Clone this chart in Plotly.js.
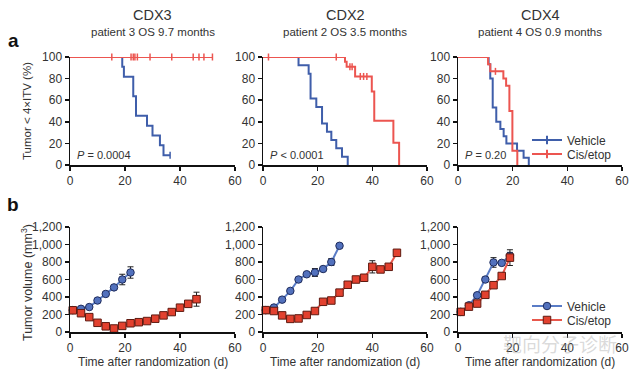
<!DOCTYPE html>
<html>
<head>
<meta charset="utf-8">
<script src="https://cdn.plot.ly/plotly-3.0.1.min.js"></script>
<style>html,body{margin:0;padding:0;background:#fff;}#chart{width:640px;height:375px;}</style>
</head>
<body>
<div id="chart"></div>
<script>
// ---------- DATA ----------
const panelNames = ["CDX3", "CDX2", "CDX4"];
const panelSubtitles = ["patient 3 OS 9.7 months", "patient 2 OS 3.5 months", "patient 4 OS 0.9 months"];
const pValues = ["<i>P</i> = 0.0004", "<i>P</i> < 0.0001", "<i>P</i> = 0.20"];
const seriesNames = ["Vehicle", "Cis/etop"];

// Kaplan-Meier step data (time in days, % tumor < 4xITV)
const kmVehCDX3_t = [0, 19, 19.6, 23, 24, 28, 30, 32.7, 34, 36.4];
const kmVehCDX3_s = [100, 90.9, 81.8, 63.6, 45.5, 36.4, 27.3, 18.2, 9.1, 9.1];
const kmVehCDX3_ct = [36.4];
const kmVehCDX3_cs = [9.1];
const kmCisCDX3_t = [0, 52];
const kmCisCDX3_s = [100, 100];
const kmCisCDX3_ct = [15.2, 22.2, 23, 23.6, 24.5, 29.1, 37, 44.8, 46.9, 48.7, 51.8];
const kmCisCDX3_cs = [100, 100, 100, 100, 100, 100, 100, 100, 100, 100, 100];

const kmVehCDX2_t = [0, 13, 16.7, 17.4, 19.5, 21.6, 23.4, 25, 26.8, 28.9, 31];
const kmVehCDX2_s = [100, 92.3, 84.6, 61.5, 53.8, 38.5, 30.8, 23.1, 15.4, 7.7, 0];
const kmCisCDX2_t = [0, 30, 30.6, 33.7, 39.8, 40.7, 47.7, 49.8];
const kmCisCDX2_s = [100, 95.5, 91, 82, 68, 41, 20.5, 0];
const kmCisCDX2_ct = [2, 26.8, 31.8, 32.6, 35.6, 36.8, 38];
const kmCisCDX2_cs = [100, 100, 91, 91, 82, 82, 82];

const kmVehCDX4_t = [0, 11.2, 11.8, 12.7, 14, 15.5, 16.7, 17.7, 21.6, 24, 25.9];
const kmVehCDX4_s = [100, 93.3, 80, 53.3, 40, 33.3, 26.7, 20, 13.3, 6.7, 0];
const kmCisCDX4_t = [0, 11, 11.8, 16.6, 17.6, 18.8, 19.9, 21.7];
const kmCisCDX4_s = [100, 93.3, 86.7, 80, 73.3, 50, 13.3, 0];
const kmCisCDX4_ct = [13.7];
const kmCisCDX4_cs = [86.7];

// Tumor volume (mm^3) by day
const volVehCDX3_d = [1, 4, 7, 10, 13, 16, 19, 22];
const volVehCDX3_v = [250, 265, 285, 360, 435, 510, 600, 680];
const volVehCDX3_e = [10, 15, 15, 15, 20, 25, 60, 65];
const volCisCDX3_d = [1, 4, 7, 10, 13, 16, 19, 22, 25, 28, 31, 34, 37, 40, 43, 46];
const volCisCDX3_v = [248, 215, 170, 105, 65, 40, 70, 100, 112, 125, 152, 190, 228, 278, 322, 375];
const volCisCDX3_e = [10, 10, 10, 10, 10, 10, 10, 10, 10, 10, 10, 10, 15, 20, 30, 80];

const volVehCDX2_d = [1, 4, 7, 10, 13, 16, 19, 22, 25, 28];
const volVehCDX2_v = [250, 280, 370, 470, 600, 660, 680, 720, 800, 985];
const volVehCDX2_e = [10, 15, 15, 15, 20, 20, 45, 20, 40, 20];
const volCisCDX2_d = [1, 4, 7, 10, 13, 16, 19, 22, 25, 28, 31, 34, 37, 40, 43, 46, 49];
const volCisCDX2_v = [250, 240, 190, 150, 155, 195, 240, 345, 360, 450, 540, 600, 620, 745, 715, 745, 905];
const volCisCDX2_e = [10, 10, 10, 10, 10, 10, 10, 15, 15, 15, 20, 20, 20, 70, 20, 20, 20];

const volVehCDX4_d = [1, 4, 7, 10, 13, 16, 19];
const volVehCDX4_v = [230, 305, 420, 600, 795, 790, 870];
const volVehCDX4_e = [10, 15, 20, 25, 55, 20, 40];
const volCisCDX4_d = [1, 4, 7, 10, 13, 16, 19];
const volCisCDX4_v = [230, 290, 325, 425, 535, 640, 850];
const volCisCDX4_e = [10, 10, 15, 15, 20, 20, 90];

const xTicks = [0, 20, 40, 60];
const kmTicks = [0, 20, 40, 60, 80, 100];
const volTicks = [0, 200, 400, 600, 800, 1000, 1200];

// ---------- STYLE ----------
const BLUE = "#3f5eaa", RED = "#ec5550";
const BLUE_LINE = "#5a7cc6", RED_LINE = "#e8584c";
const BLUE_FILL = "#5271bd", BLUE_EDGE = "#1f2c5c";
const RED_FILL = "#e2412f", RED_EDGE = "#5e1a10";
const FONT = "Liberation Sans, Arial, Helvetica, sans-serif";
const W = 640, H = 375;
const px = v => v / W, py = v => 1 - v / H;

const traces = [];
const kmVeh = [[kmVehCDX3_t, kmVehCDX3_s], [kmVehCDX2_t, kmVehCDX2_s], [kmVehCDX4_t, kmVehCDX4_s]];
const kmCis = [[kmCisCDX3_t, kmCisCDX3_s], [kmCisCDX2_t, kmCisCDX2_s], [kmCisCDX4_t, kmCisCDX4_s]];
const censVeh = [[kmVehCDX3_ct, kmVehCDX3_cs], null, null];
const censCis = [[kmCisCDX3_ct, kmCisCDX3_cs], [kmCisCDX2_ct, kmCisCDX2_cs], [kmCisCDX4_ct, kmCisCDX4_cs]];

for (let i = 0; i < 3; i++) {
  const xa = "x" + (i === 0 ? "" : i + 1), ya = "y" + (i === 0 ? "" : i + 1);
  [[kmVeh[i], censVeh[i], BLUE], [kmCis[i], censCis[i], RED]].forEach(([km, c, col]) => {
    traces.push({type: "scatter", x: km[0], y: km[1], xaxis: xa, yaxis: ya, mode: "lines",
      line: {color: col, width: 2, shape: "hv"}, showlegend: false, cliponaxis: false, hoverinfo: "skip"});
    if (c) traces.push({type: "scatter", x: c[0], y: c[1], xaxis: xa, yaxis: ya, mode: "markers",
      marker: {symbol: "line-ns-open", size: 5, color: col, line: {color: col, width: 1.5}}, showlegend: false, cliponaxis: false, hoverinfo: "skip"});
  });
}
// top legend entries
[[seriesNames[0], BLUE, "legend"], [seriesNames[1], RED, "legend3"]].forEach(([n, col, lg]) => {
  traces.push({type: "scatter", x: [null], y: [null], xaxis: "x3", yaxis: "y3", name: n, mode: "lines+markers",
    line: {color: col, width: 2}, marker: {symbol: "line-ns-open", size: 6, color: col, line: {color: col, width: 2}},
    legend: lg, showlegend: true});
});

const volVeh = [[volVehCDX3_d, volVehCDX3_v, volVehCDX3_e], [volVehCDX2_d, volVehCDX2_v, volVehCDX2_e], [volVehCDX4_d, volVehCDX4_v, volVehCDX4_e]];
const volCis = [[volCisCDX3_d, volCisCDX3_v, volCisCDX3_e], [volCisCDX2_d, volCisCDX2_v, volCisCDX2_e], [volCisCDX4_d, volCisCDX4_v, volCisCDX4_e]];
for (let i = 0; i < 3; i++) {
  const xa = "x" + (i + 4), ya = "y" + (i + 4);
  traces.push({type: "scatter", x: volVeh[i][0], y: volVeh[i][1], xaxis: xa, yaxis: ya, name: seriesNames[0],
    mode: "lines+markers", line: {color: BLUE_LINE, width: 2},
    marker: {symbol: "circle", size: 7.5, color: BLUE_FILL, line: {color: BLUE_EDGE, width: 1}},
    error_y: {type: "data", array: volVeh[i][2], visible: true, color: "#222", thickness: 1, width: 3},
    showlegend: i === 2, legend: "legend2", cliponaxis: false});
  traces.push({type: "scatter", x: volCis[i][0], y: volCis[i][1], xaxis: xa, yaxis: ya, name: seriesNames[1],
    mode: "lines+markers", line: {color: RED_LINE, width: 2},
    marker: {symbol: "square", size: 7.5, color: RED_FILL, line: {color: RED_EDGE, width: 1}},
    error_y: {type: "data", array: volCis[i][2], visible: true, color: "#222", thickness: 1, width: 3},
    showlegend: i === 2, legend: "legend4", cliponaxis: false});
}

// ---------- LAYOUT ----------
const xDom = [[70, 235], [263, 427], [458, 622]];
const axisBase = {showgrid: false, zeroline: false, showline: true, linecolor: "#111", linewidth: 1.5,
  ticks: "outside", ticklen: 4, tickwidth: 1.5, tickcolor: "#111",
  tickfont: {family: FONT, size: 12, color: "#333"}, fixedrange: true};
const legBase = (y) => ({x: px(527), y: py(y), xanchor: "left", yanchor: "middle", bgcolor: "rgba(0,0,0,0)",
  font: {family: FONT, size: 12, color: "#333"}, tracegroupgap: 0, itemwidth: 30});

const layout = {width: W, height: H, margin: {l: 0, r: 0, t: 0, b: 0},
  paper_bgcolor: "#fff", plot_bgcolor: "rgba(0,0,0,0)", font: {family: FONT, color: "#333"},
  annotations: [], hovermode: false,
  legend: legBase(140), legend3: legBase(154), legend2: legBase(306), legend4: legBase(320)
};
for (let i = 0; i < 6; i++) {
  const k = i === 0 ? "" : String(i + 1);
  const d = xDom[i % 3];
  const top = i < 3;
  layout["xaxis" + k] = Object.assign({}, axisBase, {domain: [px(d[0]), px(d[1])], range: [0, 60],
    tickvals: xTicks, anchor: "y" + k});
  layout["yaxis" + k] = Object.assign({}, axisBase, {
    domain: top ? [py(165), py(57)] : [py(332), py(227)],
    range: top ? [0, 100] : [0, 1200], tickvals: top ? kmTicks : volTicks,
    tickformat: top ? "d" : ",d", anchor: "x" + k});
}
const ann = (text, x, y, size, extra) => layout.annotations.push(Object.assign({text, x: px(x), y: py(y),
  xref: "paper", yref: "paper", showarrow: false, xanchor: "center", yanchor: "middle",
  font: {family: FONT, size, color: "#333"}}, extra || {}));
for (let i = 0; i < 3; i++) {
  const cx = (xDom[i][0] + xDom[i][1]) / 2;
  ann(panelNames[i], cx, 15, 14.5);
  ann(panelSubtitles[i], cx, 32, 11.5);
  ann(pValues[i], xDom[i][0] + 5, 155, 11, {xanchor: "left"});
  ann("Time after randomization (d)", cx, 362, 12);
}
ann("<b>a</b>", 13, 40, 19, {font: {family: FONT, size: 19, color: "#111"}});
ann("<b>b</b>", 13, 204, 19, {font: {family: FONT, size: 19, color: "#111"}});
ann("Tumor < 4×ITV (%)", 27, 111, 11.5, {textangle: -90});
ann("Tumor volume (mm<sup>3</sup>)", 27, 283, 12.5, {textangle: -90});
ann("靶向分子诊断", 560, 343, 19, {font: {family: "Noto Sans CJK SC", size: 19, color: "rgba(160,160,160,0.4)"}});

Plotly.newPlot("chart", traces, layout, {displayModeBar: false, staticPlot: true});
</script>
</body>
</html>
